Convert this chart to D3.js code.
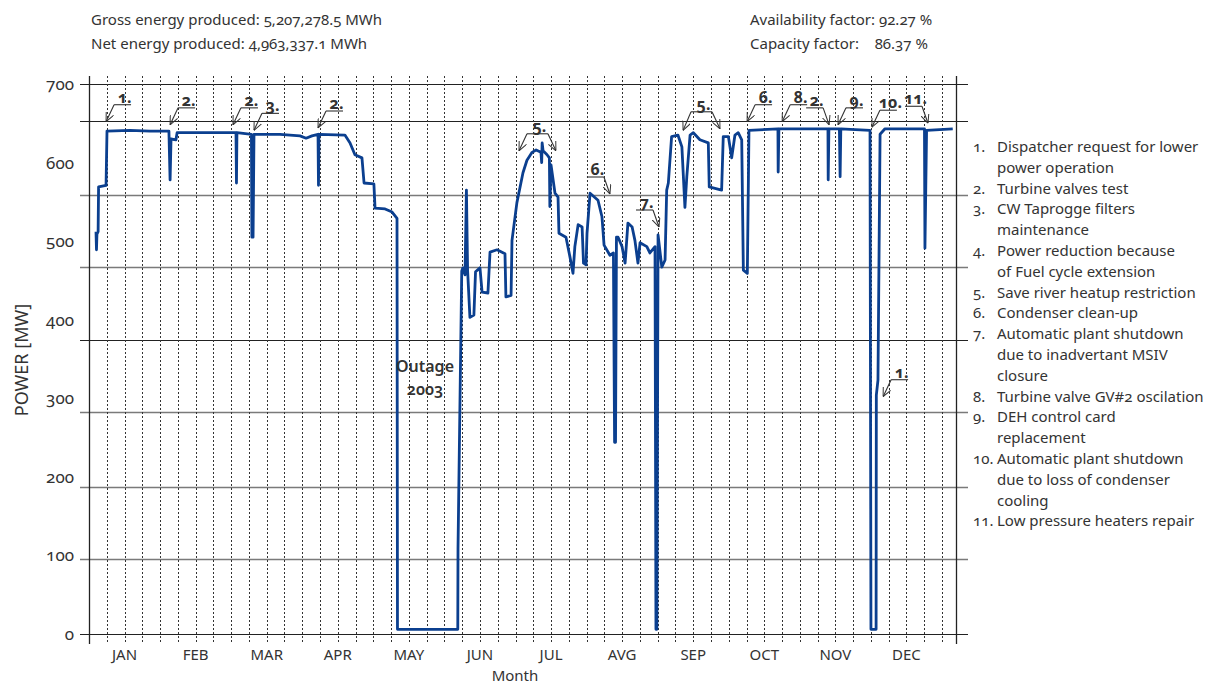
<!DOCTYPE html>
<html>
<head>
<meta charset="utf-8">
<script src="https://cdn.jsdelivr.net/npm/d3@7"></script>
<style>
  body { margin: 0; background: #fff; }
  text { font-family: "Noto Sans", sans-serif; font-variant-numeric: oldstyle-nums; fill: #333; }
</style>
</head>
<body>
<div id="chart-area"></div>
<script>
// values
let months = ['JAN', 'FEB', 'MAR', 'APR', 'MAY', 'JUN', 'JUL', 'AVG', 'SEP', 'OCT', 'NOV', 'DEC'];
let yTicks = [0, 100, 200, 300, 400, 500, 600, 700];
let gridLevels = [96, 187, 283, 374, 467, 559, 653];
let gridDark = [374, 653];

// day of year / power in MW
let days = [3.0,3.2,3.4,3.9,4.1,7.3,7.7,17.5,26.1,34.2,
  34.7,35.1,37.2,37.7,47.5,62.9,63.1,63.3,69.5,69.7,
  70.2,70.6,81.7,90.3,92.9,95.4,98.0,98.2,98.4,109.5,
  111.7,113.8,116.8,117.7,121.9,122.4,126.7,129.7,131.8,132.0,
  157.8,157.9,159.5,160.0,160.9,161.5,162.0,163.0,164.7,165.4,
  167.3,168.2,170.7,171.6,174.6,178.0,178.4,180.6,181.0,183.1,
  184.4,185.7,187.4,189.6,191.3,193.4,193.7,193.9,194.3,196.0,
  197.0,197.2,197.7,199.4,200.7,201.1,204.1,205.8,207.1,207.9,
  209.3,211.0,211.6,212.7,213.1,214.4,217.8,219.5,220.4,222.9,
  224.4,224.9,225.3,225.7,226.4,228.1,229.4,230.6,232.4,233.6,
  234.9,235.8,238.7,240.0,242.2,242.6,243.0,243.5,245.1,246.5,
  247.2,247.9,249.3,252.0,253.7,255.0,255.8,257.2,258.6,261.4,
  265.0,265.4,270.7,271.4,273.6,275.0,276.4,277.8,279.3,280.0,
  281.7,282.4,294.8,294.9,295.2,316.2,316.3,316.6,321.1,321.4,
  321.7,334.2,334.6,336.8,336.9,337.6,338.5,340.6,357.5,357.7,
  358.4,369.6];
let power = [512,489,509,512,569,571,640,641,640,640,
  578,630,629,638,638,638,574,638,636,505,
  505,636,636,634,631,634,636,571,636,635,
  625,610,606,574,573,542,541,537,529,6,
  6,109,462,466,457,565,463,403,406,461,
  466,435,434,486,489,484,429,431,501,549,
  568,587,603,613,616,613,600,625,615,610,
  606,544,597,561,556,510,505,480,459,493,
  521,518,472,470,510,561,552,531,495,482,
  485,244,244,505,505,493,472,523,518,501,
  472,498,493,485,493,6,6,508,467,476,
  565,574,633,635,620,543,582,635,638,629,
  625,569,565,633,633,606,635,638,629,463,
  459,641,643,588,643,643,578,643,643,582,
  643,641,6,6,304,323,636,643,643,491,
  641,643];

let headerLeft = ['Gross energy produced: 5,207,278.5 MWh', 'Net energy produced: 4,963,337.1 MWh'];
let headerRight = ['Availability factor: 92.27 %', 'Capacity factor:\u00a0\u00a0\u00a0\u00a086.37 %'];

// tips given as [day, MW]
let annotations = [
  { label: '1.', tips: [[7.3, 652]], side: 'L' },
  { label: '2.', tips: [[34.7, 648]], side: 'L' },
  { label: '2.', tips: [[61.6, 648]], side: 'L' },
  { label: '3.', tips: [[70.6, 641]], side: 'L' },
  { label: '2.', tips: [[98.0, 644]], side: 'L' },
  { label: '5.', tips: [[184.0, 615], [199.8, 615]] },
  { label: '6.', tips: [[222.9, 560]], side: 'R' },
  { label: '7.', tips: [[243.9, 518]], side: 'R' },
  { label: '5.', tips: [[254.2, 641], [270.0, 643]] },
  { label: '6.', tips: [[281.6, 652]], side: 'L' },
  { label: '8.', tips: [[296.6, 652]], side: 'L' },
  { label: '2.', tips: [[316.7, 648]], side: 'R' },
  { label: '9.', tips: [[320.5, 648]], side: 'L' },
  { label: '10.', tips: [[335.0, 645]], side: 'L' },
  { label: '11.', tips: [[359.0, 650]], side: 'R' },
  { label: '1.', tips: [[339.8, 302]], side: 'L' }
];

let legend = [
  ['1.', 'Dispatcher request for lower'], ['', 'power operation'],
  ['2.', 'Turbine valves test'],
  ['3.', 'CW Taprogge filters'], ['', 'maintenance'],
  ['4.', 'Power reduction because'], ['', 'of Fuel cycle extension'],
  ['5.', 'Save river heatup restriction'],
  ['6.', 'Condenser clean-up'],
  ['7.', 'Automatic plant shutdown'], ['', 'due to inadvertant MSIV'], ['', 'closure'],
  ['8.', 'Turbine valve GV#2 oscilation'],
  ['9.', 'DEH control card'], ['', 'replacement'],
  ['10.', 'Automatic plant shutdown'], ['', 'due to loss of condenser'], ['', 'cooling'],
  ['11.', 'Low pressure heaters repair']
];

let W = 1214, H = 687;
let plotLeft = 89, plotRight = 942, frameRight = 956;
let plotTop = 84, plotBottom = 634;

let svg = d3.select('#chart-area').append('svg')
  .attr('width', W)
  .attr('height', H);

let x = d3.scaleLinear().domain([0, 365]).range([plotLeft, plotRight]);
let xm = d3.scaleBand().domain(months).range([plotLeft, plotRight]);
let y = d3.scaleLinear().domain([0, 700]).range([plotBottom, plotTop]);

// horizontal grid
let hl = [0, 700].concat(gridLevels);
let isDark = d => d == 0 || d == 700 || gridDark.includes(d);
svg.append('g').selectAll('line')
  .data(hl)
  .enter()
  .append('line')
  .attr('x1', plotLeft - 9)
  .attr('x2', frameRight + 12)
  .attr('y1', d => Math.round(y(d)) + 0.5)
  .attr('y2', d => Math.round(y(d)) + 0.5)
  .attr('stroke', d => isDark(d) ? '#222' : '#7a7a7a')
  .attr('stroke-width', d => isDark(d) ? 1.2 : 1.7);

// dotted quarter-month lines
let quarters = [];
months.forEach(m => {
  for (let k = 1; k <= 4; k++) quarters.push(xm(m) + xm.bandwidth() * k / 4);
});
svg.append('g').selectAll('line')
  .data(quarters)
  .enter()
  .append('line')
  .attr('x1', d => Math.round(d) + 0.5)
  .attr('x2', d => Math.round(d) + 0.5)
  .attr('y1', plotTop - 8)
  .attr('y2', plotBottom + 10)
  .attr('stroke', '#333')
  .attr('stroke-width', 1)
  .attr('stroke-dasharray', '2,2');

// frame verticals
[plotLeft, frameRight].forEach(px => {
  svg.append('line')
    .attr('x1', px + 0.5).attr('x2', px + 0.5)
    .attr('y1', plotTop - 8).attr('y2', plotBottom + 10)
    .attr('stroke', '#222').attr('stroke-width', 1.3);
});

// y labels
svg.append('g').selectAll('text')
  .data(yTicks)
  .enter()
  .append('text')
  .attr('x', 74)
  .attr('y', d => y(d) + 6)
  .attr('text-anchor', 'end')
  .style('font-size', '17px')
  .text(d => d);

svg.append('text')
  .attr('transform', 'translate(28, 360) rotate(-90)')
  .attr('text-anchor', 'middle')
  .style('font-size', '18px')
  .text('POWER [MW]');

// month labels
svg.append('g').selectAll('text')
  .data(months)
  .enter()
  .append('text')
  .attr('x', d => xm(d) + xm.bandwidth() / 2)
  .attr('y', 660)
  .attr('text-anchor', 'middle')
  .style('font-size', '15px')
  .text(d => d);

svg.append('text')
  .attr('x', 515)
  .attr('y', 681)
  .attr('text-anchor', 'middle')
  .style('font-size', '15px')
  .text('Month');

// power line
let pts = days.map((d, i) => [d, power[i]]);
let line = d3.line()
  .x(d => x(d[0]))
  .y(d => y(d[1]));
svg.append('path')
  .datum(pts)
  .attr('d', line)
  .attr('fill', 'none')
  .attr('stroke', '#0b3f8f')
  .attr('stroke-width', 2.8)
  .attr('stroke-linejoin', 'round');

// outage label
svg.append('text')
  .attr('x', 425).attr('y', 372)
  .attr('text-anchor', 'middle')
  .style('font-size', '16px').style('font-weight', 600)
  .text('Outage');
svg.append('text')
  .attr('x', 425).attr('y', 395)
  .attr('text-anchor', 'middle')
  .style('font-size', '16px').style('font-weight', 600)
  .text('2003');

// arrows
svg.append('defs').append('marker')
  .attr('id', 'arr')
  .attr('viewBox', '0 0 10 10')
  .attr('refX', 10).attr('refY', 5)
  .attr('markerWidth', 9).attr('markerHeight', 9)
  .attr('markerUnits', 'userSpaceOnUse')
  .attr('orient', 'auto')
  .append('path')
  .attr('d', 'M0,0.5 L10,5 L0,9.5')
  .attr('fill', 'none')
  .attr('stroke', '#333')
  .attr('stroke-width', 1.1);

let ag = svg.append('g');
annotations.forEach(a => {
  let t = a.tips.map(p => [x(p[0]), y(p[1])]);
  let bx0, bx1, by;
  if (t.length == 2) {
    bx0 = t[0][0] + 8; bx1 = t[1][0] - 8; by = Math.min(t[0][1], t[1][1]) - 17;
  } else if (a.side == 'L') {
    bx0 = t[0][0] + 8; bx1 = bx0 + 17; by = t[0][1] - 17;
  } else {
    bx1 = t[0][0] - 6; bx0 = bx1 - 17; by = t[0][1] - 17;
  }
  ag.append('line')
    .attr('x1', bx0).attr('x2', bx1).attr('y1', by).attr('y2', by)
    .attr('stroke', '#333').attr('stroke-width', 1.1);
  t.forEach(p => {
    let sx = Math.abs(p[0] - bx0) < Math.abs(p[0] - bx1) ? bx0 : bx1;
    ag.append('line')
      .attr('x1', sx).attr('y1', by).attr('x2', p[0]).attr('y2', p[1])
      .attr('stroke', '#333').attr('stroke-width', 1.1)
      .attr('marker-end', 'url(#arr)');
  });
  ag.append('text')
    .attr('x', (bx0 + bx1) / 2 + 2)
    .attr('y', by - 2)
    .attr('text-anchor', 'middle')
    .style('font-size', '16px').style('font-weight', 700)
    .text(a.label);
});

// header
headerLeft.forEach((s, i) => {
  svg.append('text').attr('x', 91).attr('y', 25 + i * 24)
    .style('font-size', '15px').text(s);
});
headerRight.forEach((s, i) => {
  svg.append('text').attr('x', 750).attr('y', 25 + i * 24)
    .style('font-size', '15px').text(s);
});

// legend
let lg = svg.append('g');
legend.forEach((row, i) => {
  let yy = 152 + i * 20.8;
  lg.append('text').attr('x', 973).attr('y', yy)
    .style('font-size', '15px').text(row[0]);
  lg.append('text').attr('x', 997).attr('y', yy)
    .style('font-size', '15px').text(row[1]);
});
</script>
</body>
</html>
